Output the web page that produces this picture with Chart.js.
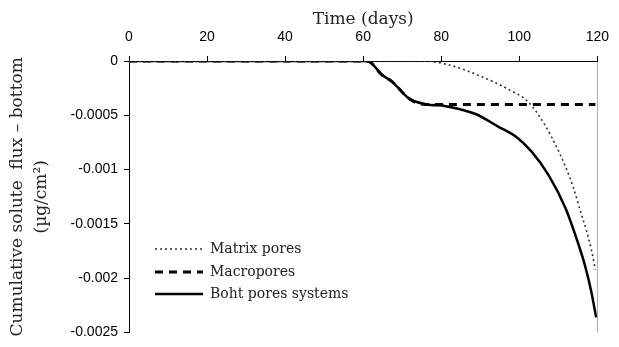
<!DOCTYPE html>
<html>
<head>
<meta charset="utf-8">
<script src="https://cdn.jsdelivr.net/npm/chart.js@4.4.0/dist/chart.umd.min.js"></script>
<style>
  html, body { margin: 0; padding: 0; background: #fff; }
  #wrap { width: 619px; height: 347px; }
</style>
</head>
<body>
<div id="wrap"><canvas id="fluxChart" width="619" height="347"></canvas></div>
<script>
// Series (time in days, flux in µg/cm2)
const matrixDays = [0, 75, 82, 90.4, 97.3, 102.4, 106.7, 109.4, 111.7, 113.9, 115.9, 117.2, 118.5, 119.5];
const matrixFlux = [0, 0, -0.000036, -0.000145, -0.000262, -0.00038, -0.000597, -0.00078, -0.00096, -0.00117, -0.00141, -0.00156, -0.00174, -0.00192];

const macroDays = [0, 60.2, 61.5, 64.8, 67.4, 71.7, 74, 76, 119.5];
const macroFlux = [0, 0, -0.000006, -0.000127, -0.00019, -0.000344, -0.00039, -0.0004, -0.0004];

const bothDays = [0, 60.2, 61.5, 64.8, 67.4, 71.7, 76.1, 81.2, 88.8, 94.7, 99.1, 103.1, 107.5, 111.8, 115.1, 116.9, 118.5, 119.7];
const bothFlux = [0, 0, -0.000006, -0.000127, -0.00019, -0.000344, -0.000398, -0.000416, -0.000488, -0.000606, -0.000696, -0.000832, -0.00105, -0.00135, -0.00168, -0.00189, -0.00213, -0.00236];

const seriesNames = ['Matrix pores', 'Macropores', 'Boht pores systems'];
const yTickValues = [0, -0.0005, -0.001, -0.0015, -0.002, -0.0025];
const yTickLabels = ['0', '-0.0005', '-0.001', '-0.0015', '-0.002', '-0.0025'];

function toPoints(days, flux) {
    return days.map((d, i) => ({ x: d, y: flux[i] }));
}

const serif = 'DejaVu Serif';
const sans = 'Liberation Sans';

// Legend drawn inside the plot, lower left
const insideLegend = {
    id: 'insideLegend',
    afterDatasetsDraw(chart) {
        const ctx = chart.ctx;
        const rows = [249, 272, 294];
        chart.data.datasets.forEach((ds, i) => {
            const y = rows[i];
            ctx.save();
            ctx.strokeStyle = ds.borderColor;
            ctx.lineWidth = ds.borderWidth;
            ctx.setLineDash(ds.borderDash || []);
            ctx.beginPath();
            ctx.moveTo(155, y);
            ctx.lineTo(203, y);
            ctx.stroke();
            ctx.setLineDash([]);
            ctx.fillStyle = '#222';
            ctx.font = '14px "' + serif + '"';
            ctx.textBaseline = 'middle';
            ctx.fillText(ds.label, 210, y);
            ctx.restore();
        });
    }
};

new Chart(document.getElementById('fluxChart'), {
    type: 'line',
    data: {
        datasets: [
            {
                label: seriesNames[0],
                data: toPoints(matrixDays, matrixFlux),
                borderColor: '#333',
                borderWidth: 1.6,
                borderDash: [2, 3],
                pointRadius: 0,
                cubicInterpolationMode: 'monotone'
            },
            {
                label: seriesNames[1],
                data: toPoints(macroDays, macroFlux),
                borderColor: '#000',
                borderWidth: 3,
                borderDash: [8, 6],
                pointRadius: 0,
                cubicInterpolationMode: 'monotone'
            },
            {
                label: seriesNames[2],
                data: toPoints(bothDays, bothFlux),
                borderColor: '#000',
                borderWidth: 2.5,
                pointRadius: 0,
                cubicInterpolationMode: 'monotone'
            }
        ]
    },
    options: {
        responsive: false,
        animation: false,
        layout: { padding: { left: 0, top: 0, right: 20, bottom: 9 } },
        plugins: {
            legend: { display: false },
            tooltip: { enabled: false }
        },
        scales: {
            x: {
                type: 'linear',
                position: 'top',
                min: 0,
                max: 120,
                afterFit: s => { s.height = 61; },
                ticks: {
                    stepSize: 20,
                    color: '#000',
                    padding: 10,
                    font: { family: sans, size: 14 }
                },
                border: { color: '#000', width: 1 },
                grid: {
                    drawOnChartArea: true,
                    color: c => (c.tick && c.tick.value === 120 ? '#b0b0b0' : 'rgba(0,0,0,0)'),
                    tickColor: '#000',
                    tickLength: 5
                },
                title: {
                    display: true,
                    text: 'Time (days)',
                    color: '#222',
                    padding: { top: 9, bottom: 0 },
                    font: { family: serif, size: 17 }
                }
            },
            y: {
                min: -0.0025,
                max: 0,
                afterFit: s => { s.width = 129; },
                ticks: {
                    stepSize: 0.0005,
                    color: '#000',
                    padding: 6,
                    font: { family: sans, size: 14 },
                    callback: function(v) {
                        let best = 0;
                        yTickValues.forEach((t, i) => {
                            if (Math.abs(t - v) < Math.abs(yTickValues[best] - v)) best = i;
                        });
                        return yTickLabels[best];
                    }
                },
                border: { color: '#000', width: 1 },
                grid: {
                    drawOnChartArea: false,
                    tickColor: '#000',
                    tickLength: 5
                },
                title: {
                    display: true,
                    text: ['Cumulative solute  flux \u2013 bottom', '(\u00b5g/cm\u00b2)'],
                    color: '#222',
                    padding: { top: 5, bottom: 0 },
                    font: { family: serif, size: 17, lineHeight: 1.45 }
                }
            }
        }
    },
    plugins: [insideLegend]
});
</script>
</body>
</html>
